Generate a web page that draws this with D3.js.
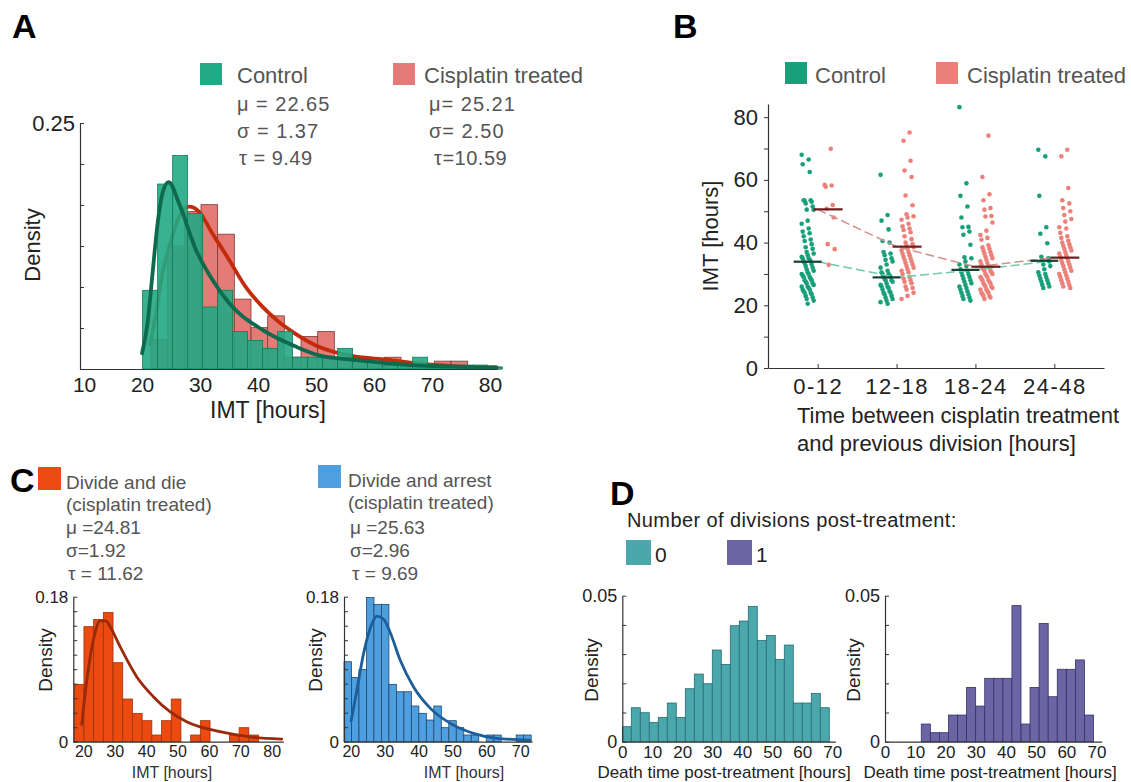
<!DOCTYPE html>
<html>
<head>
<meta charset="utf-8">
<script src="https://cdn.jsdelivr.net/npm/d3@7"></script>
<style>
  body { margin: 0; background: #fff; }
  svg text { font-family: "Liberation Sans", Arial, Helvetica, sans-serif; }
</style>
</head>
<body>
<div id="fig"></div>
<script>
// ---------- data ----------
// panel A: IMT histograms (density), bins given by start + width
const ctrlBinStart = 20.1, ctrlBinWidth = 2.586;
const ctrlDensity = [0.080, 0.188, 0.217, 0.158, 0.063, 0.080, 0.038, 0.029, 0.021, 0.038, 0.012, 0.012,
  0.012, 0.021, 0.008, 0.008, 0.004, 0.004, 0.012, 0.004, 0.004, 0.004, 0.004, 0.002];
const cisBinStart = 21.54, cisBinWidth = 2.874;
const cisDensity = [0.030, 0.125, 0.160, 0.167, 0.137, 0.071, 0.042, 0.054, 0.012, 0.033, 0.038, 0.010,
  0.012, 0.004, 0.012, 0.006, 0.004, 0.008, 0.008, 0.002, 0.002];
const ctrlFitX = [20.0, 20.96, 21.82, 22.68, 23.54, 24.57, 26.4, 29.3, 32.1, 35, 40.7, 46.4, 50.7, 56.4, 62.2, 68, 81.1];
const ctrlFitY = [0.016, 0.047, 0.098, 0.148, 0.179, 0.190, 0.168, 0.121, 0.091, 0.067, 0.040, 0.023, 0.0135, 0.0094, 0.006, 0.0034, 0.0015];
const cisFitX = [21.4, 22.5, 23.5, 25, 26.4, 28.1, 29.8, 32.1, 35, 37.8, 40.7, 43.5, 46.4, 50.7, 53, 56.4, 62.2, 68, 73.6, 81.1];
const cisFitY = [0.025, 0.06, 0.097, 0.13, 0.155, 0.165, 0.16, 0.138, 0.111, 0.084, 0.0636, 0.0483, 0.036, 0.022, 0.0175, 0.013, 0.0094, 0.0054, 0.003, 0.0015];
const aTicks = [10, 20, 30, 40, 50, 60, 70, 80];

// panel B: IMT per time window
const bCategories = ["0-12", "12-18", "18-24", "24-48"];
const bCtrl = [
  [68.0, 66.5, 65.0, 62.5, 53.5, 53.5, 53.3, 53.0, 52.5, 51.5, 50.5, 50.5, 47.0, 46.0, 44.5, 43.5, 43.0, 42.0,
   41.0, 40.5, 39.5, 38.5, 38.0, 37.0, 36.5, 36.0, 35.5, 35.0, 35.0, 34.5, 34.0, 34.0, 33.5, 33.0, 32.5, 32.0,
   31.5, 31.0, 30.5, 30.0, 30.0, 29.5, 29.0, 29.0, 28.5, 28.0, 28.0, 27.5, 27.0, 27.0, 26.5, 26.0, 26.0, 25.5,
   25.0, 25.0, 24.5, 24.0, 24.0, 23.5, 23.0, 22.5, 22.0, 21.5, 20.5],
  [61.6, 48.8, 47.0, 44.2, 40.5, 40.0, 37.0, 36.5, 36.0, 35.0, 34.5, 34.0, 33.0, 32.0, 31.0, 30.5, 30.0, 30.0,
   29.5, 29.0, 29.0, 28.5, 28.0, 28.0, 27.5, 27.0, 26.5, 26.0, 26.0, 25.5, 25.0, 24.5, 24.0, 24.0, 23.5, 23.0,
   22.5, 22.0, 21.5, 21.0, 20.5],
  [83.2, 58.9, 54.9, 51.5, 48.0, 45.0, 44.9, 43.5, 42.5, 39.3, 35.3, 35.0, 34.0, 33.0, 32.5, 31.5, 31.0, 30.5,
   30.0, 29.5, 29.0, 28.5, 28.0, 27.5, 27.0, 26.5, 26.0, 25.5, 25.0, 24.5, 24.0, 23.5, 23.0, 22.5, 22.0, 21.5],
  [69.6, 67.5, 54.9, 44.9, 42.8, 39.8, 35.5, 35.0, 34.5, 34.0, 33.0, 32.5, 31.5, 30.5, 30.0, 29.5, 29.0, 28.5,
   28.0, 27.5, 27.0, 26.5, 26.0, 25.5]
];
const bCis = [
  [69.9, 58.4, 58.2, 57.8, 52.0, 50.8, 48.0, 39.5, 37.9, 32.9],
  [75.1, 72.5, 66.1, 63.0, 60.9, 55.0, 51.9, 49.0, 48.4, 48.0, 47.3, 46.0, 45.2, 44.5, 44.0, 43.3, 42.0, 41.1,
   40.0, 39.5, 39.0, 38.5, 38.0, 37.5, 37.0, 36.5, 36.0, 35.5, 35.0, 34.5, 34.0, 33.5, 33.0, 32.5, 32.0, 31.5,
   31.0, 30.5, 30.0, 29.0, 28.5, 28.0, 27.5, 27.0, 26.0, 25.5, 25.0, 24.0, 23.0, 22.0],
  [74.1, 60.9, 55.4, 53.5, 51.0, 50.5, 48.5, 48.3, 46.4, 43.8, 42.4, 41.5, 40.9, 39.1, 38.5, 38.0, 37.5, 37.0,
   36.5, 36.0, 35.5, 35.0, 34.5, 34.0, 33.5, 33.0, 32.5, 32.0, 32.0, 31.5, 31.0, 31.0, 30.5, 30.0, 30.0, 29.5,
   29.0, 29.0, 28.5, 28.0, 28.0, 27.5, 27.0, 27.0, 26.5, 26.0, 26.0, 25.5, 25.0, 25.0, 24.5, 24.0, 24.0, 23.5,
   23.0, 23.0, 22.5, 22.0],
  [69.6, 67.5, 57.4, 53.5, 52.5, 51.0, 50.0, 48.8, 47.5, 46.7, 44.9, 44.5, 43.1, 42.0, 41.5, 40.6, 40.0, 39.5,
   39.0, 38.5, 38.0, 37.5, 37.0, 36.5, 36.0, 35.5, 35.0, 34.5, 34.0, 33.5, 33.0, 32.5, 32.0, 31.5, 31.0, 30.5,
   30.0, 29.5, 29.0, 28.5, 28.0, 27.5, 27.0, 26.5, 26.0, 25.5]
];
const bCtrlMedian = [33.9, 28.9, 31.3, 34.2];
const bCisMedian = [50.6, 38.7, 32.3, 35.2];

// panel C: divide and die / divide and arrest
const dieBinStart = 17.1, dieBinWidth = 3.09;
const dieDensity = [0.0712, 0.1428, 0.1518, 0.1605, 0.0981, 0.053, 0.0352, 0.0261, 0.0083, 0.0261, 0.053, 0,
  0.0083, 0.0261, 0, 0, 0.0083, 0.0174, 0.0083];
const dieFitX = [19.5, 21.1, 23.2, 25.3, 27.2, 28.5, 31.7, 37, 42.3, 47.6, 52.9, 63.5, 74.1, 83.2];
const dieFitY = [0.0216, 0.0766, 0.126, 0.150, 0.150, 0.143, 0.118, 0.0807, 0.0559, 0.0372, 0.0248, 0.0124, 0.0055, 0.0033];
const arrestBinStart = 18.0, arrestBinWidth = 2.21;
const arrestDensity = [0.0993, 0.0798, 0.0898, 0.179, 0.1705, 0.1705, 0.0712, 0.062, 0.062, 0.0443, 0.0352,
  0.0269, 0.0443, 0.0174, 0.0261, 0.0174, 0.0083, 0.0083, 0, 0.0083, 0.0083, 0, 0, 0.0083, 0.0083];
const arrestFitX = [20.1, 21.8, 23.8, 26.3, 27.7, 29.7, 31.7, 34.6, 38.5, 43.5, 49.4, 56.2, 63.1, 72.9];
const arrestFitY = [0.0257, 0.064, 0.11, 0.147, 0.156, 0.152, 0.135, 0.101, 0.0683, 0.0414, 0.0228, 0.0104, 0.0042, 0.002];
const cDieTicks = [20, 30, 40, 50, 60, 70, 80];
const cArrestTicks = [20, 30, 40, 50, 60, 70];

// panel D: death time post-treatment
const deathBinWidth = 3;
const death0Start = 0;
const death0Density = [0.00514, 0.01164, 0.00993, 0.00662, 0.00833, 0.01324, 0.00833, 0.01815, 0.02317, 0.01986,
  0.0314, 0.02648, 0.03973, 0.04132, 0.04635, 0.0347, 0.0364, 0.0282, 0.0331, 0.01324, 0.01324, 0.01655, 0.01164];
const death1Start = 12;
const death1Density = [0.00605, 0.00308, 0.00308, 0.00913, 0.00913, 0.0186, 0.0122, 0.0217, 0.0217, 0.0217,
  0.0466, 0.00605, 0.0186, 0.0405, 0.0154, 0.0248, 0.0248, 0.0280, 0.00913];
const dTicks = [0, 10, 20, 30, 40, 50, 60, 70];

// ---------- drawing ----------
const svg = d3.select("#fig").append("svg").attr("width", 1131).attr("height", 782);

const axisColor = "#333";
const legendText = "#555";

function drawBars(x, y, start, width, dens, fill, stroke, opacity) {
  const g = svg.append("g");
  g.selectAll("rect")
    .data(dens.map((d, i) => ({ d: d, i: i })).filter(o => o.d > 0))
    .enter()
    .append("rect")
    .attr("x", o => x(start + o.i * width))
    .attr("width", o => x(start + (o.i + 1) * width) - x(start + o.i * width))
    .attr("y", o => y(o.d))
    .attr("height", o => y(0) - y(o.d))
    .attr("fill", fill)
    .attr("fill-opacity", opacity)
    .attr("stroke", stroke)
    .attr("stroke-width", 0.8);
}

function drawFit(x, y, xs, ys, color, w) {
  const line = d3.line().x(d => x(d[0])).y(d => y(d[1])).curve(d3.curveMonotoneX);
  svg.append("path")
    .datum(d3.zip(xs, ys))
    .attr("d", line)
    .attr("fill", "none")
    .attr("stroke", color)
    .attr("stroke-width", w)
    .attr("stroke-linecap", "round");
}

function styleAxis(g, size) {
  g.select(".domain").attr("stroke", axisColor).attr("stroke-width", 1.2);
  g.selectAll(".tick line").attr("stroke", axisColor);
  g.selectAll(".tick text").attr("fill", "#222").style("font-size", size + "px");
}

// bottom axis with labels only, left axis with inward ticks
function histAxes(x, y, xTicks, yTicks, yLabels, fs, pad) {
  const gx = svg.append("g")
    .attr("transform", `translate(0,${y(0)})`)
    .call(d3.axisBottom(x).tickValues(xTicks).tickSize(0).tickSizeOuter(0).tickPadding(pad).tickFormat(d3.format("d")));
  styleAxis(gx, fs);
  const gy = svg.append("g")
    .attr("transform", `translate(${x.range()[0]},0)`)
    .call(d3.axisLeft(y).tickValues(yTicks).tickSize(-4).tickSizeOuter(0).tickPadding(5)
      .tickFormat(d => yLabels.has(d) ? yLabels.get(d) : ""));
  styleAxis(gy, fs + 1);
  return [gx, gy];
}

function text(x, y, str, size, color, opts) {
  const t = svg.append("text")
    .attr("x", x).attr("y", y)
    .attr("fill", color)
    .style("font-size", size + "px")
    .text(str);
  if (opts) {
    if (opts.anchor) t.attr("text-anchor", opts.anchor);
    if (opts.weight) t.style("font-weight", opts.weight);
    if (opts.rotate) t.attr("transform", `rotate(-90,${x},${y})`);
    if (opts.spacing) t.style("letter-spacing", opts.spacing + "px");
  }
  return t;
}

function swatch(x, y, s, fill, stroke) {
  svg.append("rect").attr("x", x).attr("y", y).attr("width", s).attr("height", s)
    .attr("fill", fill).attr("stroke", stroke || "none").attr("stroke-width", 0.6);
}

// ===== Panel A =====
const ctrlGreen = "#22a884", cisRed = "#e57b76";
const xA = d3.scaleLinear().domain([9.3, 81.2]).range([80, 497]);
const yA = d3.scaleLinear().domain([0, 0.25]).range([369, 123]);

drawBars(xA, yA, cisBinStart, cisBinWidth, cisDensity, cisRed, "#7a3a36", 1);
drawFit(xA, yA, cisFitX, cisFitY, "#c42b0b", 3.8);
drawBars(xA, yA, ctrlBinStart, ctrlBinWidth, ctrlDensity, ctrlGreen, "#157a5c", 0.9);
drawFit(xA, yA, ctrlFitX, ctrlFitY, "#0d6a4c", 3.8);

const aYTicks = d3.range(0, 7).map(i => i * 0.25 / 6);
const aYLabels = new Map([[aYTicks[6], "0.25"]]);
histAxes(xA, yA, aTicks, aYTicks, aYLabels, 21, 8);

text(12, 38, "A", 34, "#000", { weight: "bold" });
text(40, 245, "Density", 22, "#222", { rotate: true, anchor: "middle" });
text(268, 418, "IMT [hours]", 23, "#222", { anchor: "middle" });

swatch(200, 63, 22, ctrlGreen);
swatch(393, 63, 22, cisRed);
text(237, 83, "Control", 22, legendText);
text(424, 83, "Cisplatin treated", 22, legendText);
text(237, 111, "μ = 22.65", 20, legendText, { spacing: 1 });
text(237, 138, "σ = 1.37", 20, legendText, { spacing: 1 });
text(239, 165, "τ = 9.49", 20, legendText, { spacing: 0.5 });
text(429, 111, "μ= 25.21", 20, legendText, { spacing: 1 });
text(429, 138, "σ= 2.50", 20, legendText, { spacing: 1 });
text(434, 165, "τ=10.59", 20, legendText, { spacing: 0.5 });

// ===== Panel B =====
const ptGreen = "#17a07a", ptRed = "#eb817a";
const xB = d3.scalePoint().domain(bCategories).range([768, 1104]).padding(0.63);
const yB = d3.scaleLinear().domain([0, 84.2]).range([368, 104]);

const gyB = svg.append("g").attr("transform", "translate(768,0)")
  .call(d3.axisLeft(yB).tickValues(d3.range(0, 81, 10)).tickSize(4).tickSizeOuter(0).tickPadding(6)
    .tickFormat(d => d % 20 === 0 ? d : ""));
styleAxis(gyB, 22);
const gxB = svg.append("g").attr("transform", "translate(0,368)")
  .call(d3.axisBottom(xB).tickSize(-4).tickSizeOuter(0).tickPadding(10));
styleAxis(gxB, 22);
gxB.selectAll(".tick text").style("letter-spacing", "1.5px");

function jitter(i) {
  return ((i * 7) % 13 - 6) * 1.0;
}

bCategories.forEach((cat, k) => {
  const cx = xB(cat);
  svg.append("g").selectAll("circle").data(bCtrl[k]).enter().append("circle")
    .attr("cx", (d, i) => cx - 10 + jitter(i))
    .attr("cy", d => yB(d))
    .attr("r", 2.3)
    .attr("fill", ptGreen);
  svg.append("g").selectAll("circle").data(bCis[k]).enter().append("circle")
    .attr("cx", (d, i) => cx + 11 + jitter(i + 3))
    .attr("cy", d => yB(d))
    .attr("r", 2.3)
    .attr("fill", ptRed);
});

const medLine = d3.line().x((d, i) => xB(bCategories[i])).y(d => yB(d));
svg.append("path").datum(bCisMedian).attr("d", medLine)
  .attr("fill", "none").attr("stroke", "#d0918b").attr("stroke-width", 1.5).attr("stroke-dasharray", "9,4");
svg.append("path").datum(bCtrlMedian).attr("d", medLine)
  .attr("fill", "none").attr("stroke", "#73c9a9").attr("stroke-width", 1.5).attr("stroke-dasharray", "9,4");

svg.append("g").selectAll("line").data(bCtrlMedian).enter().append("line")
  .attr("x1", (d, i) => xB(bCategories[i]) - 24).attr("x2", (d, i) => xB(bCategories[i]) + 4)
  .attr("y1", d => yB(d)).attr("y2", d => yB(d))
  .attr("stroke", "#173f33").attr("stroke-width", 2.2);
svg.append("g").selectAll("line").data(bCisMedian).enter().append("line")
  .attr("x1", (d, i) => xB(bCategories[i]) - 4).attr("x2", (d, i) => xB(bCategories[i]) + 25)
  .attr("y1", d => yB(d)).attr("y2", d => yB(d))
  .attr("stroke", "#6e1c1c").attr("stroke-width", 2.2);

text(673, 38, "B", 34, "#000", { weight: "bold" });
text(718, 236, "IMT [hours]", 22, "#222", { rotate: true, anchor: "middle" });
text(797, 423, "Time between cisplatin treatment", 22, "#222");
text(797, 451, "and previous division [hours]", 22, "#222");
swatch(785, 62, 22, ptGreen);
swatch(936, 62, 22, "#e98079");
text(815, 83, "Control", 22, legendText);
text(967, 83, "Cisplatin treated", 22, legendText);

// ===== Panel C =====
const dieFill = "#eb4a10", arrestFill = "#4d9fe0";
const yC = d3.scaleLinear().domain([0, 0.18]).range([741.7, 596.7]);
const cYTicks = d3.range(0, 11).map(i => i * 0.018);
const cYLabels = new Map([[0, "0"], [cYTicks[10], "0.18"]]);

const xC1 = d3.scaleLinear().domain([16.8, 83.7]).range([73.3, 283.3]);
drawBars(xC1, yC, dieBinStart, dieBinWidth, dieDensity, dieFill, "#9c330d", 1);
drawFit(xC1, yC, dieFitX, dieFitY, "#9b2a08", 2.8);
histAxes(xC1, yC, cDieTicks, cYTicks, cYLabels, 16, 4);
text(52, 660, "Density", 19, "#222", { rotate: true, anchor: "middle" });
text(172, 778, "IMT [hours]", 16, "#333", { anchor: "middle" });

const xC2 = d3.scaleLinear().domain([18, 73.5]).range([344, 532]);
drawBars(xC2, yC, arrestBinStart, arrestBinWidth, arrestDensity, arrestFill, "#23476b", 1);
drawFit(xC2, yC, arrestFitX, arrestFitY, "#1b5e99", 2.8);
histAxes(xC2, yC, cArrestTicks, cYTicks, cYLabels, 16, 4);
text(322, 660, "Density", 19, "#222", { rotate: true, anchor: "middle" });
text(464, 778, "IMT [hours]", 16, "#333", { anchor: "middle" });

text(10, 492, "C", 34, "#000", { weight: "bold" });
swatch(38, 467, 23, dieFill);
swatch(318, 465, 23, arrestFill);
text(66, 489, "Divide and die", 19, legendText);
text(66, 511, "(cisplatin treated)", 19, legendText);
text(66, 534, "μ =24.81", 19, legendText);
text(66, 557, "σ=1.92", 19, legendText);
text(68, 580, "τ = 11.62", 19, legendText);
text(348, 487, "Divide and arrest", 19, legendText);
text(348, 509, "(cisplatin treated)", 19, legendText);
text(350, 534, "μ =25.63", 19, legendText);
text(350, 557, "σ=2.96", 19, legendText);
text(352, 580, "τ = 9.69", 19, legendText);

// ===== Panel D =====
const teal = "#4aa8ad", purple = "#6b65a3";
const yD = d3.scaleLinear().domain([0, 0.05]).range([741.7, 595.7]);
const dYTicks = d3.range(0, 6).map(i => i * 0.01);
const dYLabels = new Map([[0, "0"], [dYTicks[5], "0.05"]]);

const xD1 = d3.scaleLinear().domain([0, 71]).range([622.3, 835.3]);
drawBars(xD1, yD, death0Start, deathBinWidth, death0Density, teal, "#2b6a6e", 1);
histAxes(xD1, yD, dTicks, dYTicks, dYLabels, 17, 4);
text(598, 670, "Density", 19, "#222", { rotate: true, anchor: "middle" });
text(724, 778, "Death time post-treatment [hours]", 17, "#222", { anchor: "middle" });

const xD2 = d3.scaleLinear().domain([0, 71.7]).range([885, 1101.7]);
drawBars(xD2, yD, death1Start, deathBinWidth, death1Density, purple, "#35306a", 1);
histAxes(xD2, yD, dTicks, dYTicks, dYLabels, 17, 4);
text(860, 670, "Density", 19, "#222", { rotate: true, anchor: "middle" });
text(990, 778, "Death time post-treatment [hours]", 17, "#222", { anchor: "middle" });

text(610, 505, "D", 34, "#000", { weight: "bold" });
text(627, 527, "Number of divisions post-treatment:", 20, "#222", { spacing: 0.4 });
swatch(626, 540, 25, teal);
swatch(727, 540, 25, purple);
text(655, 562, "0", 21, "#222");
text(756, 562, "1", 21, "#222");
</script>
</body>
</html>
